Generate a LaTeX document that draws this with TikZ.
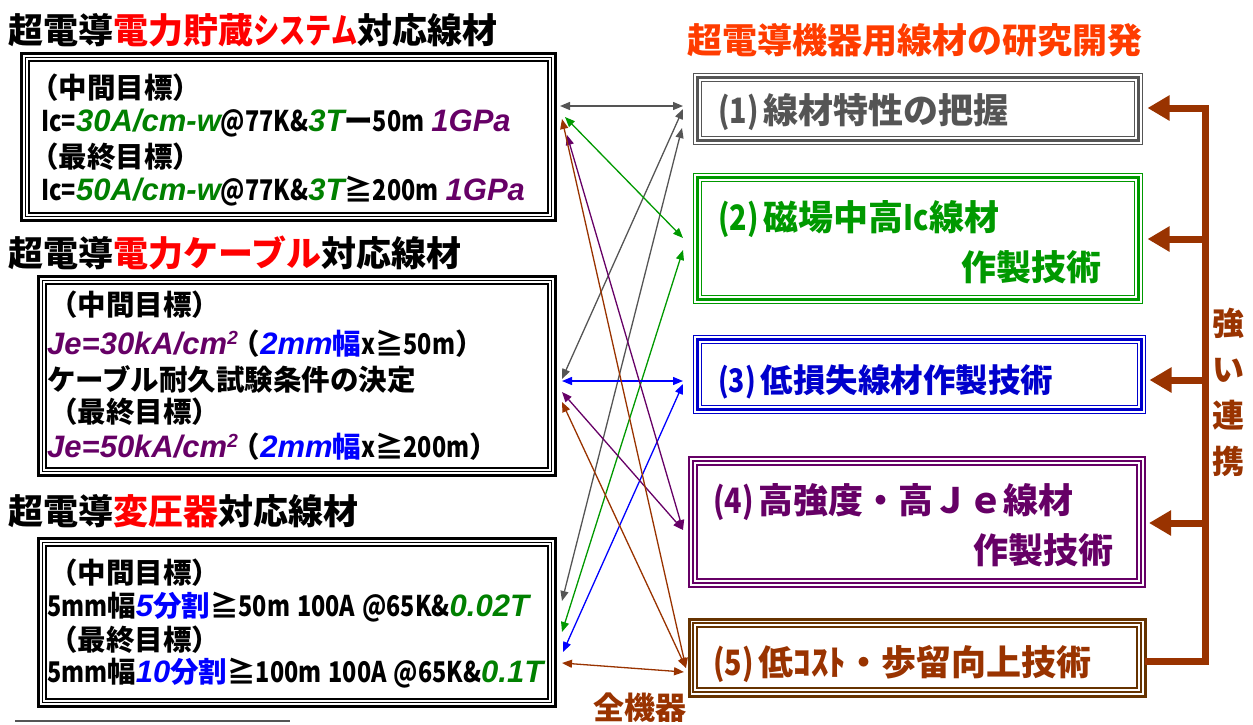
\documentclass[tikz,border=0pt]{standalone}
\usepackage{fontspec}
\usetikzlibrary{arrows.meta,calc}
\newfontfamily\jp{Noto Sans CJK JP}
\newfontfamily\jpn{Noto Sans CJK JP}[FakeStretch=0.82]
\newfontfamily\jpk{Noto Sans CJK JP}[FakeStretch=0.75]
\newfontfamily\lat{Liberation Sans}
\definecolor{cred}{RGB}{255,0,0}
\definecolor{corange}{RGB}{255,60,0}
\definecolor{cgreen}{RGB}{0,128,0}
\definecolor{cgreenb}{RGB}{0,153,0}
\definecolor{cblue}{RGB}{0,0,255}
\definecolor{cblueb}{RGB}{0,0,204}
\definecolor{cpurple}{RGB}{102,0,102}
\definecolor{cbrown}{RGB}{153,51,0}
\definecolor{cdbrown}{RGB}{102,51,0}
\definecolor{cgray}{RGB}{85,85,85}
\newcommand\N[1]{{\jpn\bfseries #1}}
\newcommand\BI[1]{{\lat\bfseries\itshape\fontsize{31}{31}\selectfont #1}}
\newcommand\SupTwo{\raisebox{10pt}{\lat\bfseries\itshape\fontsize{19}{19}\selectfont 2}}
\newcommand\TriFrame[7]{%
 \draw[#2,line width=#3] (#1.north west) rectangle (#1.south east);
 \draw[#2,line width=#4] ($(#1.north west)+(#6,#6)$) rectangle ($(#1.south east)+(-#6,-#6)$);
 \draw[#2,line width=#5] ($(#1.north west)+(#7,#7)$) rectangle ($(#1.south east)+(-#7,-#7)$);}
\tikzset{
 box/.style={draw=none,inner sep=0,outer sep=0},
 lt/.style={anchor=west,inner sep=0,font=\jp\bfseries\fontsize{28.5}{28.5}\selectfont,text height=25pt,text depth=3.5pt},
 ttl/.style={anchor=west,inner sep=0,font=\jp\bfseries\fontsize{35}{35}\selectfont,text height=30.8pt,text depth=4.2pt},
 rt/.style={anchor=west,inner sep=0,font=\jp\bfseries\fontsize{35}{35}\selectfont,text height=30.8pt,text depth=4.2pt},
 dbl/.style={line width=1.3pt,{Triangle[length=10pt,width=8pt]}-{Triangle[length=10pt,width=8pt]}},
 bus/.style={cbrown,line width=7pt},
 busarrow/.style={cbrown,line width=7pt,-{Triangle[length=22pt,width=24pt]}},
}
\begin{document}
\begin{tikzpicture}[x=1pt,y=-1pt]
\useasboundingbox (0,0) rectangle (1253,724);
% ---------- left titles
\node[ttl] (t1) at (8,30) {超電導{\color{cred}電力貯蔵{\jpk システム}}対応線材};
\node[ttl] (t2) at (8,253) {超電導{\color{cred}電力ケーブル}対応線材};
\node[ttl] (t3) at (8,511) {超電導{\color{cred}変圧器}対応線材};
% ---------- left boxes
\node[box,minimum width=534.4pt,minimum height=167.4pt] (b1) at (288.5,137) {};
\TriFrame{b1}{black}{2.6pt}{1.5pt}{2.2pt}{4}{7.7}
\node[box,minimum width=517.4pt,minimum height=199.4pt] (b2) at (297,376) {};
\TriFrame{b2}{black}{2.6pt}{1.5pt}{2.2pt}{4}{7.7}
\node[box,minimum width=517.4pt,minimum height=168.4pt] (b3) at (297,622.5) {};
\TriFrame{b3}{black}{2.6pt}{1.5pt}{2.2pt}{4}{7.7}
% box 1 text
\node[lt] (b1a) at (30,88) {（中間目標）};
\node[lt] (b1b) at (41,121) {\N{Ic=}\BI{\color{cgreen}30A/cm-w}\N{@77K\&}\BI{\color{cgreen}3T}ー\N{50m}\hspace{7pt}\BI{\color{cpurple}1GPa}};
\node[lt] (b1c) at (30,157) {（最終目標）};
\node[lt] (b1d) at (41,190) {\N{Ic=}\BI{\color{cgreen}50A/cm-w}\N{@77K\&}\BI{\color{cgreen}3T}≧\N{200m}\hspace{7pt}\BI{\color{cpurple}1GPa}};
% box 2 text
\node[lt] (b2a) at (49,305) {（中間目標）};
\node[lt] (b2b) at (47,344) {\BI{\color{cpurple}Je=30kA/cm\SupTwo}\hspace{-6pt}（{\color{cblue}\BI{2mm}幅}\N{x}≧\N{50m}）};
\node[lt] (b2c) at (47,380) {ケーブル耐久試験条件の決定};
\node[lt] (b2d) at (49,412) {（最終目標）};
\node[lt] (b2e) at (47,447) {\BI{\color{cpurple}Je=50kA/cm\SupTwo}\hspace{-6pt}（{\color{cblue}\BI{2mm}幅}\N{x}≧\N{200m}）};
% box 3 text
\node[lt] (b3a) at (49,573) {（中間目標）};
\node[lt] (b3b) at (47,606) {\N{5mm}幅{\color{cblue}\BI{5}分割}≧\N{50m\hspace{7pt}100A\hspace{7pt}@65K\&}\BI{\color{cgreen}0.02T}};
\node[lt] (b3c) at (49,640) {（最終目標）};
\node[lt] (b3d) at (47,672) {\N{5mm}幅{\color{cblue}\BI{10}分割}≧\N{100m\hspace{7pt}100A\hspace{7pt}@65K\&}\BI{\color{cgreen}0.1T}};
% bottom-left rule
\coordinate (ruleA) at (15,721);
\coordinate (ruleB) at (290,721);
\draw[cgray,line width=1.5pt] (ruleA) -- (ruleB);
% ---------- right title and boxes
\node[anchor=center,inner sep=0,font=\jp\bfseries\fontsize{35}{35}\selectfont,text=corange] (rtitle) at (915,40) {超電導機器用線材の研究開発};
\node[box,minimum width=449pt,minimum height=71pt] (r1) at (918,109) {};
\TriFrame{r1}{cgray}{1.2pt}{3.2pt}{1.2pt}{3.8}{8}
\node[box,minimum width=449pt,minimum height=130pt] (r2) at (918,238.5) {};
\TriFrame{r2}{cgreenb}{1.2pt}{3.2pt}{1.2pt}{3.8}{8}
\node[box,minimum width=452pt,minimum height=78pt] (r3) at (919.5,374.5) {};
\TriFrame{r3}{cblueb}{1.2pt}{3.2pt}{1.2pt}{3.8}{8}
\node[box,minimum width=456pt,minimum height=130pt] (r4) at (917,522) {};
\TriFrame{r4}{cpurple}{2pt}{2pt}{2.4pt}{4}{8}
\node[box,minimum width=456pt,minimum height=77pt] (r5) at (917,657.5) {};
\TriFrame{r5}{cdbrown}{3pt}{1.8pt}{1.3pt}{4.3}{8}
% right box texts
\node[rt,text=cgray] (r1a) at (718,110) {\N{(1)}\hspace{5pt}線材特性の把握};
\node[rt,text=cgreenb] (r2a) at (718,217) {\N{(2)}\hspace{5pt}磁場中高\N{Ic}線材};
\node[rt,text=cgreenb,anchor=east] (r2b) at (1102,267) {作製技術};
\node[rt,text=cblueb,font=\jp\bfseries\fontsize{32.5}{32.5}\selectfont] (r3a) at (718,379) {\N{(3)}\hspace{5pt}低損失線材作製技術};
\node[rt,text=cpurple] (r4a) at (713,500) {\N{(4)}\hspace{5pt}高強度・高Ｊｅ線材};
\node[rt,text=cpurple,anchor=east] (r4b) at (1114,550) {作製技術};
\node[rt,text=cbrown] (r5a) at (713,662) {\N{(5)}\hspace{5pt}低ｺｽﾄ・歩留向上技術};
% ---------- brown bus on the right
\coordinate (bus1) at (1205,108);
\coordinate (bus2) at (1205,239);
\coordinate (bus3) at (1205,380);
\coordinate (bus4) at (1205,523);
\coordinate (bus5) at (1205,661);
\draw[bus] (r5.east |- bus5) -- (bus5) -- (bus1);
\draw[busarrow] ($(bus1)+(3.5,0)$) -- ($(r1.east |- bus1)+(5,0)$);
\draw[busarrow] (bus2) -- ($(r2.east |- bus2)+(5,0)$);
\draw[busarrow] (bus3) -- ($(r3.east |- bus3)+(4,0)$);
\draw[busarrow] (bus4) -- ($(r4.east |- bus4)+(4,0)$);
\node[anchor=center,inner sep=0,align=center,text=cbrown,font=\jp\bfseries\fontsize{32}{46}\selectfont] (renkei) at (1228,392) {強\\い\\連\\携};
\node[anchor=center,inner sep=0,text=cbrown,font=\jp\bfseries\fontsize{31}{31}\selectfont] (zenkiki) at (640,708) {全機器};
% ---------- connector end points
\coordinate (L1g) at (560,106);
\coordinate (L1br) at (562,119);
\coordinate (L1gr) at (565,117);
\coordinate (L1p) at (567,135);
\coordinate (L2g) at (562,379);
\coordinate (L2b) at (562,381);
\coordinate (L2p) at (562,392);
\coordinate (L2br) at (562,402);
\coordinate (L3g) at (562,601);
\coordinate (L3gr) at (562,632);
\coordinate (L3b) at (563,652);
\coordinate (L3br) at (562,663);
\coordinate (R1g) at (683,106);
\coordinate (R1g2) at (683,109);
\coordinate (R1g3) at (682,128);
\coordinate (R2gr) at (683,238);
\coordinate (R2gr2) at (683,250);
\coordinate (R3b) at (683,381);
\coordinate (R3b2) at (683,384);
\coordinate (R4p) at (683,530);
\coordinate (R5br) at (686,668);
\coordinate (R5br3) at (684,672);
% ---------- connectors
\draw[dbl,cgray] (L1g) -- (R1g);
\draw[dbl,cgray] (L2g) -- (R1g2);
\draw[dbl,cgray] (L3g) -- (R1g3);
\draw[dbl,cgreenb] (L1gr) -- (R2gr);
\draw[dbl,cgreenb] (L3gr) -- (R2gr2);
\draw[dbl,cblue] (L2b) -- (R3b);
\draw[dbl,cblue] (L3b) -- (R3b2);
\draw[dbl,cpurple] (L1p) -- (R4p);
\draw[dbl,cpurple] (L2p) -- (R4p);
\draw[dbl,cbrown] (L1br) -- (R5br);
\draw[dbl,cbrown] (L2br) -- (R5br);
\draw[dbl,cbrown] (L3br) -- (R5br3);
\end{tikzpicture}
\end{document}
